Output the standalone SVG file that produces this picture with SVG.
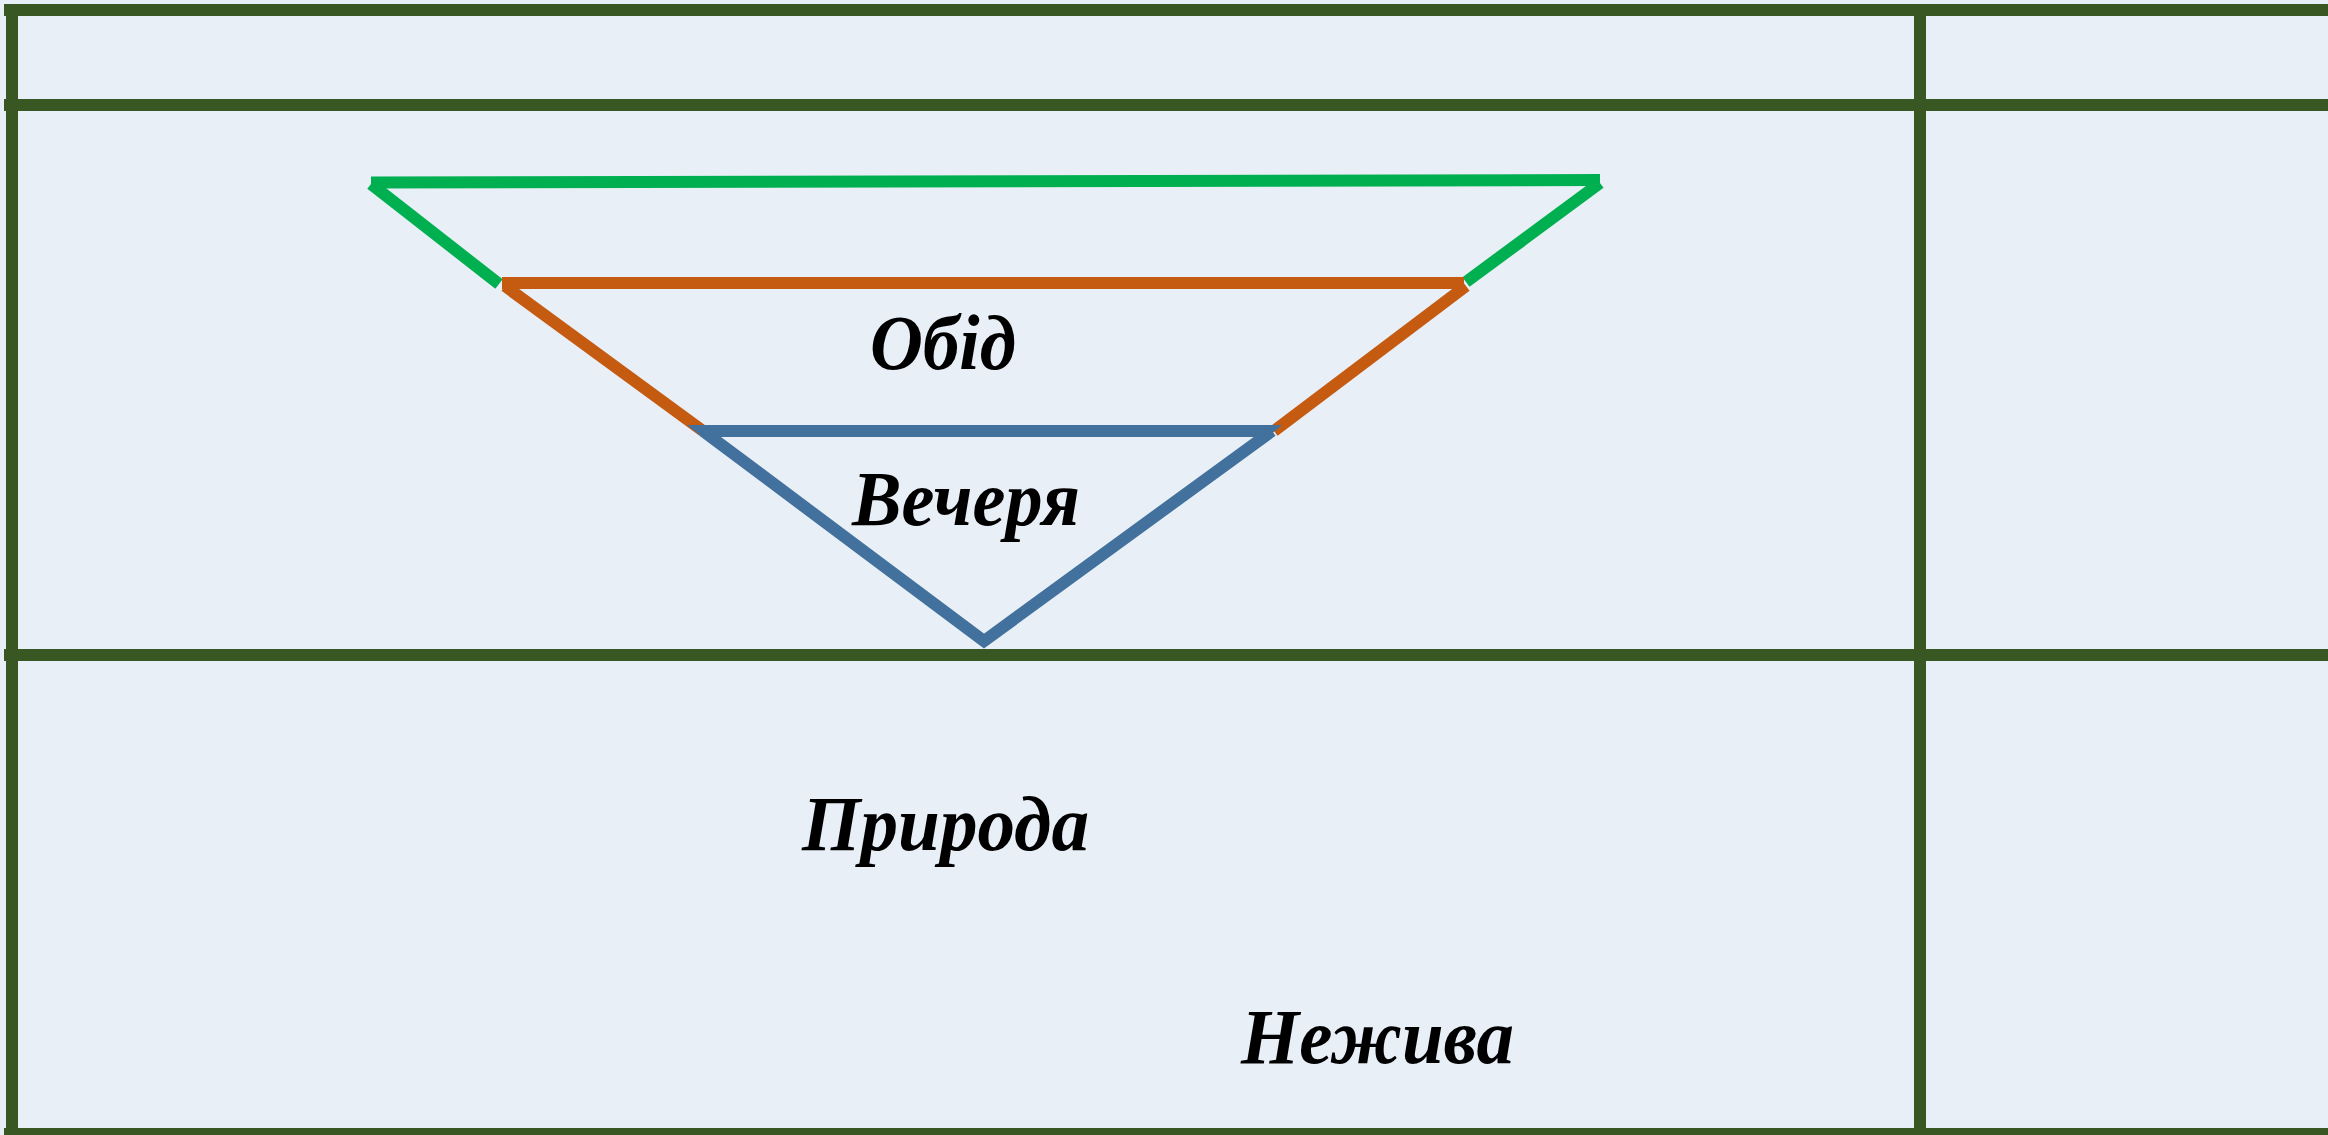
<svg xmlns="http://www.w3.org/2000/svg" width="2328" height="1135" viewBox="0 0 2328 1135">
<style>
.grid{stroke:#385723;stroke-width:12;fill:none}
.g{stroke:#00B050;stroke-width:12;fill:none}
.o{stroke:#C55A11;stroke-width:12;fill:none}
.b{stroke:#41719C;stroke-width:12;fill:none;stroke-linejoin:miter}
.bf{fill:#41719C;stroke:none}
.t{font-family:"Liberation Serif","Times New Roman",serif;font-weight:bold;font-style:italic;font-size:78px;fill:#000}
</style>
<rect x="0" y="0" width="2328" height="1135" fill="#E9EFF7"/>
<g id="grid">
<line class="grid" x1="4" y1="10" x2="2328" y2="10"/>
<line class="grid" x1="4" y1="105" x2="2328" y2="105"/>
<line class="grid" x1="4" y1="655" x2="2328" y2="655"/>
<line class="grid" x1="4" y1="1134" x2="2328" y2="1134"/>
<line class="grid" x1="12" y1="4" x2="12" y2="1135"/>
<line class="grid" x1="1920" y1="4" x2="1920" y2="1135"/>
</g>
<g id="connectors">
<g id="green">
<line class="g" x1="371" y1="182.5" x2="1600" y2="180"/>
<line class="g" x1="371" y1="184" x2="499" y2="284"/>
<line class="g" x1="1600" y1="183" x2="1466" y2="282"/>
</g>
<g id="orange">
<line class="o" x1="502" y1="283" x2="1464" y2="283"/>
<line class="o" x1="505" y1="286" x2="703" y2="431"/>
<line class="o" x1="1466" y1="286" x2="1274" y2="431"/>
</g>
<g id="blue">
<polygon class="bf" points="687,425 1282,425 1268,437 702,437"/>
<polyline class="b" points="703,431 984,641 1272,431"/>
</g>
</g>
<g id="obid"><text class="t" x="870" y="369" textLength="146" lengthAdjust="spacingAndGlyphs">Обід</text></g>
<g id="vechera"><text class="t" x="852" y="525" textLength="228" lengthAdjust="spacingAndGlyphs">Вечеря</text></g>
<g id="pryroda"><text class="t" x="802" y="850" textLength="287" lengthAdjust="spacingAndGlyphs">Природа</text></g>
<g id="nezhyva"><text class="t" x="1241" y="1063" textLength="273" lengthAdjust="spacingAndGlyphs">Нежива</text></g>
</svg>
